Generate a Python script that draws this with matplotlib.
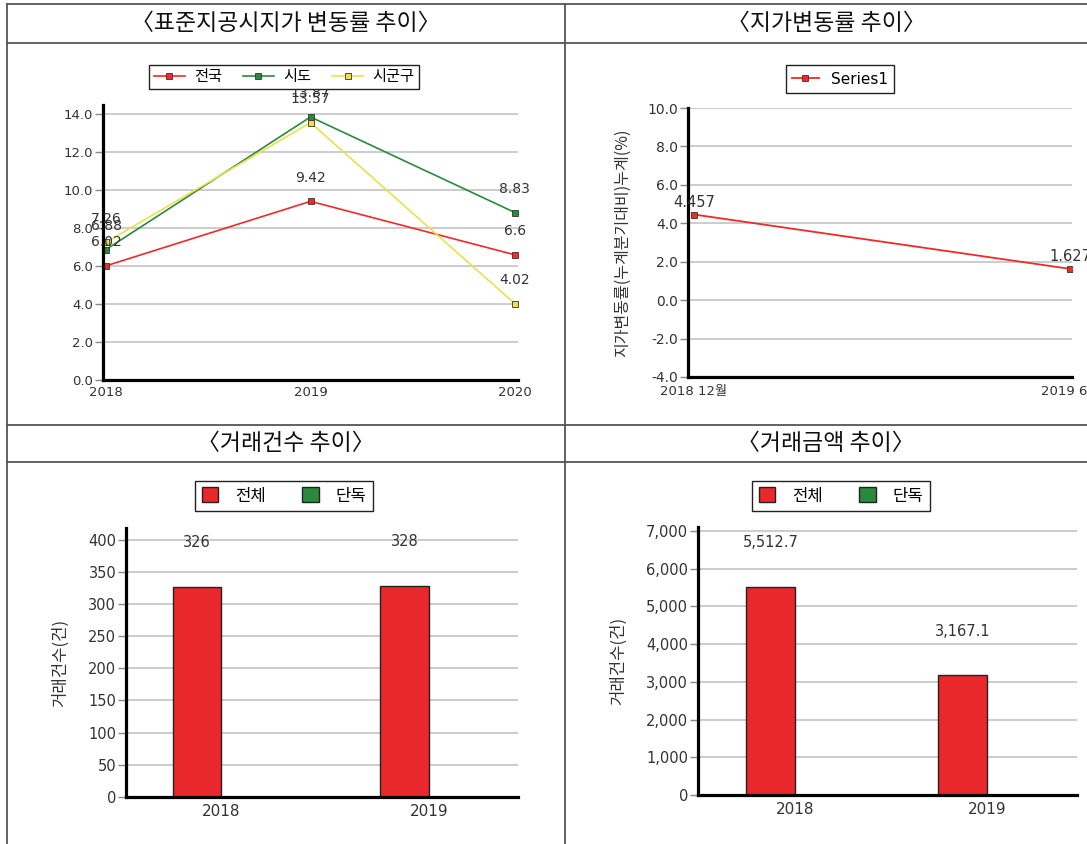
import matplotlib
matplotlib.use("Agg")
import matplotlib.pyplot as plt
from matplotlib.lines import Line2D
from matplotlib.patches import Patch
import numpy as np

plt.rcParams['font.family'] = ['DejaVu Sans', 'Noto Sans CJK KR']

W, H = 1087, 844

# --- data ---
std_years = [2018, 2019, 2020]
std_nation = [6.02, 9.42, 6.6]
std_sido = [6.88, 13.87, 8.83]
std_sigungu = [7.26, 13.57, 4.02]

lp_periods = ['2018 12월', '2019 6월']
lp_rates = [4.457, 1.627]

trade_years = ['2018', '2019']
count_total = [326, 328]
count_single = [0, 0]
amount_total = [5512.7, 3167.1]
amount_single = [0, 0]

RED = '#ee2a2a'
GREEN = '#2a8a3c'
YELLOW = '#ece04a'
GRID = '#cccccc'
TXT = '#333333'
KR = ['Noto Sans CJK KR', 'DejaVu Sans']


def rect(x0, y0, x1, y1):
    # pixel box -> figure fraction
    return [x0 / W, 1 - y1 / H, (x1 - x0) / W, (y1 - y0) / H]


def style_axes(ax, ysize=10, xsize=9.5, xpad=5):
    for s in ['top', 'right']:
        ax.spines[s].set_visible(False)
    ax.spines['left'].set_linewidth(2.3)
    ax.spines['bottom'].set_linewidth(2.3)
    ax.yaxis.grid(True, color=GRID, linewidth=1.4)
    ax.set_axisbelow(True)
    ax.tick_params(axis='y', length=6, width=1, color='#888888', labelsize=ysize, labelcolor=TXT, pad=1)
    ax.tick_params(axis='x', length=0, labelsize=xsize, labelcolor=TXT, pad=xpad)


fig = plt.figure(figsize=(W / 100, H / 100), dpi=100)

# --- table frame ---
lc = '#555555'
for y in [4, 43, 425, 462]:
    fig.add_artist(Line2D([7 / W, 1], [1 - y / H, 1 - y / H], color=lc, lw=1.3, transform=fig.transFigure))
for x in [7, 565]:
    fig.add_artist(Line2D([x / W, x / W], [0, 1 - 4 / H], color=lc, lw=1.3, transform=fig.transFigure))

titles = [('〈표준지공시지가 변동률 추이〉', 286, 24), ('〈지가변동률 추이〉', 826, 24),
          ('〈거래건수 추이〉', 286, 444), ('〈거래금액 추이〉', 826, 444)]
for t, x, y in titles:
    fig.text(x / W, 1 - y / H, t, ha='center', va='center', fontsize=16.5, color='#111111', family=KR)

# --- top-left: standard land price change ---
ax1 = fig.add_axes(rect(103, 105, 518, 380))
for vals, col, name in [(std_nation, RED, '전국'), (std_sido, GREEN, '시도'), (std_sigungu, YELLOW, '시군구')]:
    ax1.plot(std_years, vals, color=col, lw=1.2, marker='s', markersize=4,
             markerfacecolor=col, markeredgecolor='#333333', markeredgewidth=0.6, label=name)
    for xv, v in zip(std_years, vals):
        ax1.annotate(f'{v}', (xv, v), xytext=(0, 17), textcoords='offset points',
                     ha='center', va='center', fontsize=10, color=TXT)
ax1.set_ylim(0, 14.5)
ax1.set_yticks(np.arange(0, 14.1, 2))
ax1.set_yticklabels([f'{v:.1f}' for v in np.arange(0, 14.1, 2)])
ax1.set_xlim(2017.985, 2020.015)
ax1.set_xticks(std_years)
ax1.set_xticklabels([str(y) for y in std_years])
style_axes(ax1, ysize=9.5, xsize=9.5, xpad=4)
h, l = ax1.get_legend_handles_labels()
fig.legend(h, l, loc='center', bbox_to_anchor=(284 / W, 1 - 77 / H), ncol=3, fontsize=11,
           frameon=True, fancybox=False, edgecolor='#222222', framealpha=1,
           handlelength=2.0, columnspacing=1.4, borderpad=0.3, handletextpad=0.6)

# --- top-right: land price change ---
ax2 = fig.add_axes(rect(688, 108, 1072, 377))
xp = np.arange(len(lp_periods))
ax2.plot(xp, lp_rates, color=RED, lw=1.3, marker='s', markersize=4.5,
         markerfacecolor=RED, markeredgecolor='#333333', markeredgewidth=0.6, label='Series1')
for xv, v in zip(xp, lp_rates):
    ax2.annotate(f'{v}', (xv, v), xytext=(0, 9), textcoords='offset points',
                 ha='center', va='center', fontsize=10.5, color=TXT)
ax2.set_ylim(-4, 10)
ax2.set_yticks(np.arange(-4, 10.1, 2))
ax2.set_yticklabels([f'{v:.1f}' for v in np.arange(-4, 10.1, 2)])
ax2.set_xlim(-0.016, 1.005)
ax2.set_xticks(xp)
ax2.set_xticklabels(lp_periods)
style_axes(ax2, ysize=10, xsize=9.5, xpad=6)
ax2.set_ylabel('지가변동률(누계분기대비)누계(%)', fontsize=11.5, color=TXT, labelpad=12, family=KR)
h, l = ax2.get_legend_handles_labels()
fig.legend(h, l, loc='center', bbox_to_anchor=(840 / W, 1 - 79 / H), fontsize=11,
           frameon=True, fancybox=False, edgecolor='#222222', framealpha=1,
           handlelength=1.8, borderpad=0.4, handletextpad=0.8)


def bar_panel(box, total, single, ylim, yticks, fmt, xlim, legend_center):
    ax = fig.add_axes(rect(*box))
    x = np.arange(len(trade_years))
    w = 0.235 if ylim[1] < 1000 else 0.255
    ax.bar(x - w / 2, total, width=w, color='#e8282a', edgecolor='#222222', linewidth=1.0, label='전체')
    ax.bar(x + w / 2, single, width=w, color=GREEN, edgecolor='#222222', linewidth=0, label='단독')
    for xv, v in zip(x, total):
        ax.annotate(fmt(v), (xv - w / 2, v), xytext=(0, 32), textcoords='offset points',
                    ha='center', va='center', fontsize=10.5, color=TXT)
    ax.set_ylim(*ylim)
    ax.set_yticks(yticks)
    ax.set_yticklabels([f'{int(t):,}' for t in yticks])
    ax.set_xlim(*xlim)
    ax.set_xticks(x)
    ax.set_xticklabels(trade_years)
    style_axes(ax, ysize=10.5, xsize=11, xpad=5)
    ax.set_ylabel('거래건수(건)', fontsize=12, color=TXT, labelpad=14, family=KR)
    handles = [Patch(facecolor='#e8282a', edgecolor='#222222'), Patch(facecolor=GREEN, edgecolor='#222222')]
    fig.legend(handles, ['전체', '단독'], loc='center', bbox_to_anchor=legend_center, ncol=2, fontsize=12,
               frameon=True, fancybox=False, edgecolor='#222222', framealpha=1, prop={'family': KR, 'size': 12},
               handlelength=1.0, handleheight=1.0, columnspacing=2.2, borderpad=0.4, handletextpad=1.0,
               borderaxespad=0.0)
    return ax


bar_panel((126, 528, 518, 797), count_total, count_single, (0, 418), np.arange(0, 401, 50),
          lambda v: f'{v:,}', (-0.46, 1.43), (284 / W, 1 - 496 / H))
bar_panel((698, 527, 1077, 795), amount_total, amount_single, (0, 7100), np.arange(0, 7001, 1000),
          lambda v: f'{v:,.1f}', (-0.505, 1.469), (841 / W, 1 - 496 / H))

fig.savefig('out.png', dpi=100)
